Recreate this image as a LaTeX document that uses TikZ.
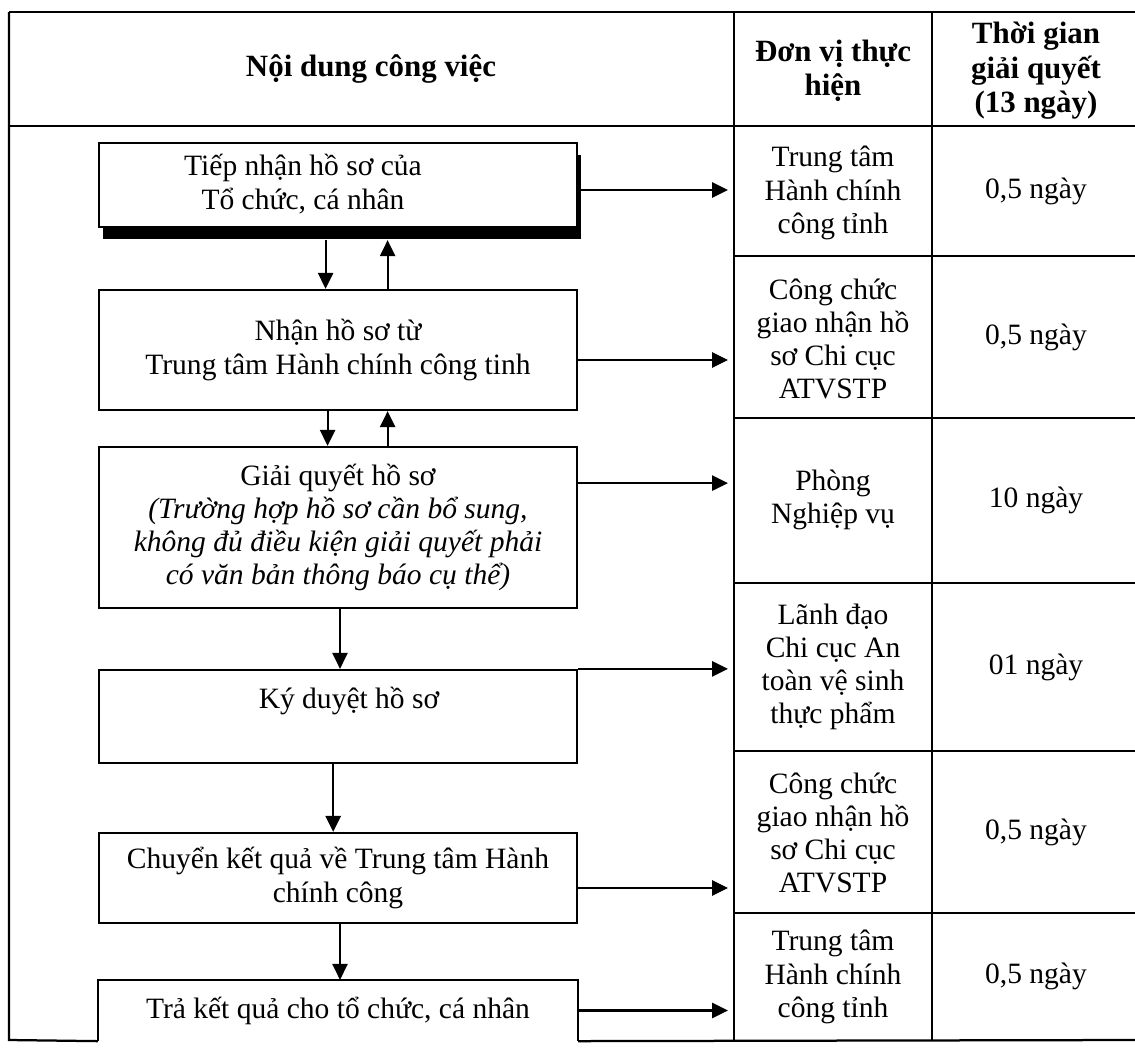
\documentclass[tikz,border=0pt]{standalone}
\usepackage{fontspec}
\setmainfont{Liberation Serif}
\usepackage{tikz}
\usetikzlibrary{calc, arrows.meta, shadows}

\tikzset{
	rule/.style={line width=1.6pt},
	box/.style={draw, line width=1.6pt, fill=white, minimum width=11.95cm, inner sep=0pt, align=center, font=\fontsize{21pt}{23.6pt}\selectfont},
	cell/.style={align=center, inner sep=0pt, font=\fontsize{21pt}{23.6pt}\selectfont},
	head/.style={align=center, inner sep=0pt, font=\fontsize{22pt}{24.5pt}\selectfont\bfseries},
	arr/.style={line width=1.5pt, -{Triangle[length=0.4cm, width=0.38cm]}}
}

\begin{document}
\begin{tikzpicture}[x=0.025cm, y=-0.025cm]
					\useasboundingbox[fill=white] (0,0) rectangle (1135,1052);
					
					\coordinate (col2) at (728,0);
					
					\begin{scope}
						\node [box, minimum height=2.1cm, drop shadow={shadow xshift=0.1cm, shadow yshift=-0.3cm, fill=black, opacity=1}] (b1) at (338,185) {};
						\node [cell] (t1) at (303,184) {Tiếp nhận hồ sơ của\\Tổ chức, cá nhân};
						\node [box, minimum height=3cm] (b2) at (338,350) {Nhận hồ sơ từ\\Trung tâm Hành chính công tinh};
						\node [box, minimum height=4.025cm] (b3) at (338,527.5) {Giải quyết hồ sơ\\\itshape (Trường hợp hồ sơ cần bổ sung,\\\itshape không đủ điều kiện giải quyết phải\\\itshape có văn bản thông báo cụ thể)};
						\node [box, minimum height=2.325cm] (b4) at (338,716.5) {};
						\node [cell] (t4) at (349,701) {Ký duyệt hồ sơ};
						\node [box, minimum height=2.25cm] (b5) at (338,878) {Chuyển kết quả về Trung tâm Hành\\chính công};
						\node [box, draw=none, minimum height=1.475cm] (b6) at (338,1010.5) {Trả kết quả cho tổ chức, cá nhân};
					\end{scope}
					
					\begin{scope}
						\draw [rule] (9,12) -- (1135,12);
						\draw [rule] (9,126) -- (1135,126);
						\draw [rule] (9,12) -- (9,1040) -- (b6.south west);
						\draw [rule] (b6.south east) -- (1135,1040);
						\draw [rule] (b6.south west) |- (b6.north east) -- (b6.south east);
						\draw [rule] (734,12) -- (734,1040);
						\draw [rule] (932,12) -- (932,1040);
						\foreach \y in {256,418,583,751,913}
							\draw [rule] (734,\y) -- (1135,\y);
					\end{scope}
					
					\node [head] (h1) at (371,69) {Nội dung công việc};
					\node [head] (h2) at (833,71) {Đơn vị thực\\hiện};
					\node [head] (h3) at (1036,71) {Thời gian\\giải quyết\\(13 ngày)};
					
					\node [cell] (u1) at (833,193) {Trung tâm\\Hành chính\\công tỉnh};
					\node [cell] (u2) at (833,339) {Công chức\\giao nhận hồ\\sơ Chi cục\\ATVSTP};
					\node [cell] (u3) at (833,500) {Phòng\\Nghiệp vụ};
					\node [cell] (u4) at (833,667) {Lãnh đạo\\Chi cục An\\toàn vệ sinh\\thực phẩm};
					\node [cell] (u5) at (833,833) {Công chức\\giao nhận hồ\\sơ Chi cục\\ATVSTP};
					\node [cell] (u6) at (833,977) {Trung tâm\\Hành chính\\công tỉnh};
					
					\node [cell] (d1) at (1036,191) {0,5 ngày};
					\node [cell] (d2) at (1036,337) {0,5 ngày};
					\node [cell] (d3) at (1036,500) {10 ngày};
					\node [cell] (d4) at (1036,667) {01 ngày};
					\node [cell] (d5) at (1036,832) {0,5 ngày};
					\node [cell] (d6) at (1036,976) {0,5 ngày};
					
					\begin{scope}
						\draw [arr] ([xshift=-0.31cm, yshift=-0.3cm]b1.south) -- ([xshift=-0.31cm]b2.north);
						\draw [arr] ([xshift=1.24cm]b2.north) -- ([xshift=1.24cm, yshift=-0.3cm]b1.south);
						\draw [arr] ([xshift=-0.26cm]b2.south) -- ([xshift=-0.26cm]b3.north);
						\draw [arr] ([xshift=1.24cm]b3.north) -- ([xshift=1.24cm]b2.south);
						\draw [arr] ([xshift=0.05cm]b3.south) -- ([xshift=0.05cm]b4.north);
						\draw [arr] ([xshift=-0.12cm]b4.south) -- ([xshift=-0.12cm]b5.north);
						\draw [arr] ([xshift=0.05cm]b5.south) -- ([xshift=0.05cm]b6.north);
						
						\draw [arr] ([yshift=-0.125cm]b1.east) coordinate (s1) -- (s1 -| col2);
						\draw [arr] ([yshift=-0.25cm]b2.east) coordinate (s2) -- (s2 -| col2);
						\draw [arr] ([yshift=1.11cm]b3.east) coordinate (s3) -- (s3 -| col2);
						\draw [arr] (b4.north east) -- (b4.north east -| col2);
						\draw [arr] ([yshift=-0.25cm]b5.east) coordinate (s5) -- (s5 -| col2);
						\draw [arr] (b6.east) -- (b6.east -| col2);
					\end{scope}
				\end{tikzpicture}
\end{document}
